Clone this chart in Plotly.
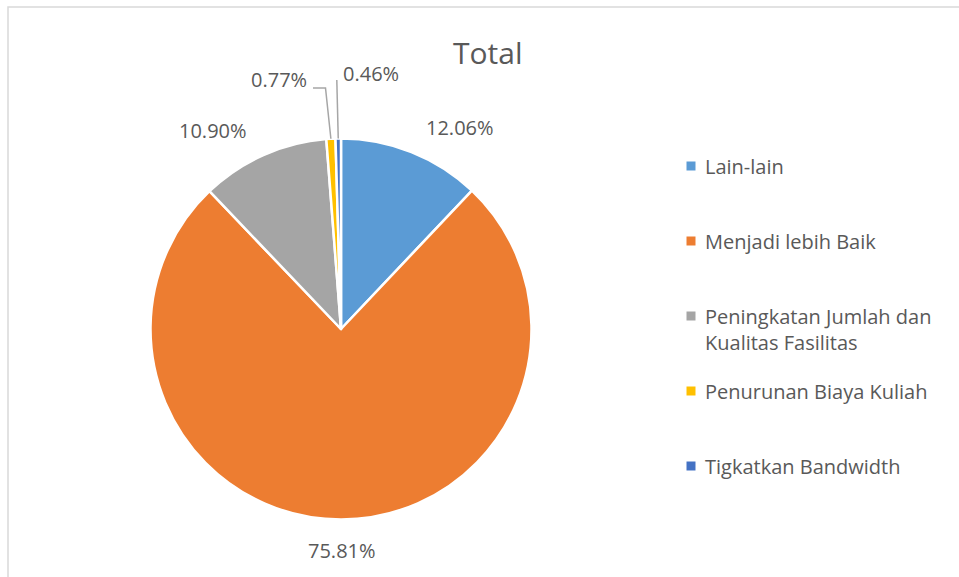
import math
import plotly.graph_objects as go

# ---- data ----
categories = ["Lain-lain", "Menjadi lebih Baik", "Peningkatan Jumlah dan Kualitas Fasilitas",
              "Penurunan Biaya Kuliah", "Tigkatkan Bandwidth"]
legend_text = ["Lain-lain", "Menjadi lebih Baik", "Peningkatan Jumlah dan<br>Kualitas Fasilitas",
               "Penurunan Biaya Kuliah", "Tigkatkan Bandwidth"]
values = [12.06, 75.81, 10.90, 0.77, 0.46]
title_text = "Total"

# ---- style / layout ----
colors = ["#5B9BD5", "#ED7D31", "#A5A5A5", "#FFC000", "#4472C4"]
W, H = 959, 577
FONT = "Open Sans"
TXT = "#595959"
CX, CY, R = 341, 329, 190.5
# label centres (pixels) and leader-line elbows
label_pos = [(460, 127), (342, 550), (213, 130), (279, 80), (371, 73)]
leaders = {3: [(325.5, 88), (313, 88)], 4: [(336.8, 80)]}


def px(x):
    return x / W


def py(y):
    return 1 - y / H


fig = go.Figure()
fig.add_trace(go.Pie(
    labels=categories, values=values, sort=False, direction="clockwise", rotation=0,
    marker=dict(colors=colors, line=dict(color="white", width=2.5)),
    textinfo="none", hoverinfo="label+percent", showlegend=False,
    domain=dict(x=[px(CX - R), px(CX + R)], y=[py(CY + R), py(CY - R)]),
))

annotations = []
shapes = []

# percentage labels
total = sum(values)
cum = 0.0
for i, v in enumerate(values):
    mid = (cum + v / 2) / total * 2 * math.pi
    cum += v
    lx, ly = label_pos[i]
    annotations.append(dict(x=px(lx), y=py(ly), xref="paper", yref="paper",
                            text=f"{v / total * 100:.2f}%", showarrow=False,
                            font=dict(family=FONT, size=20, color=TXT),
                            xanchor="center", yanchor="middle"))
    if i in leaders:
        ex, ey = CX + R * math.sin(mid), CY - R * math.cos(mid)
        pts = [(ex, ey)] + leaders[i]
        path = "M " + " L ".join(f"{px(a)},{py(b)}" for a, b in pts)
        shapes.append(dict(type="path", xref="paper", yref="paper", path=path,
                           line=dict(color="#A6A6A6", width=1.5)))

# title
annotations.append(dict(x=px(488), y=py(52), xref="paper", yref="paper", text=title_text,
                        showarrow=False, font=dict(family=FONT, size=30, color=TXT),
                        xanchor="center", yanchor="middle"))

# legend (manual)
LX, LY0, GAP = 691, 166, 75
for i, lab in enumerate(legend_text):
    y = LY0 + i * GAP
    shapes.append(dict(type="rect", xref="paper", yref="paper",
                       x0=px(LX - 4.5), x1=px(LX + 4.5), y0=py(y + 4.5), y1=py(y - 4.5),
                       fillcolor=colors[i], line=dict(width=0)))
    annotations.append(dict(x=px(LX + 12), y=py(y - 15), xref="paper", yref="paper",
                            text=lab.replace("<br>", "<br><span style='font-size:3px'> </span><br>")
                            if False else lab,
                            showarrow=False, align="left",
                            font=dict(family=FONT, size=20, color=TXT),
                            xanchor="left", yanchor="top"))

# chart-area border (left & top edges visible)
shapes.append(dict(type="path", xref="paper", yref="paper",
                   path=f"M {px(8)},{py(H + 5)} L {px(8)},{py(7)} L {px(W + 5)},{py(7)}",
                   line=dict(color="#D9D9D9", width=1.5)))

fig.update_layout(width=W, height=H, margin=dict(l=0, r=0, t=0, b=0),
                  paper_bgcolor="white", plot_bgcolor="white",
                  annotations=annotations, shapes=shapes, showlegend=False)
fig.write_html("out.html", config={"displayModeBar": False},
               post_script="document.body.style.margin='0';document.body.style.overflow='hidden';")
